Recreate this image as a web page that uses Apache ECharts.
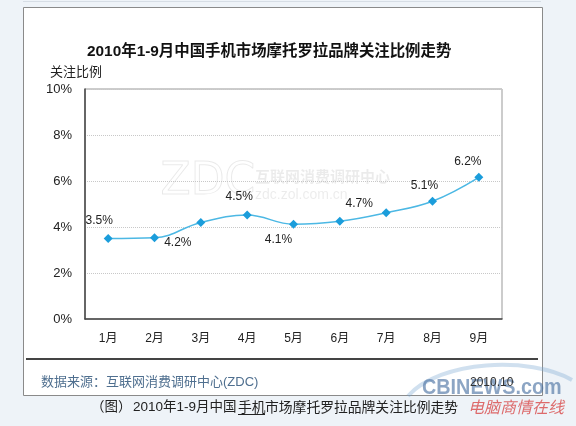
<!DOCTYPE html>
<html>
<head>
<meta charset="utf-8">
<script src="https://cdn.jsdelivr.net/npm/echarts@6/dist/echarts.min.js"></script>
<style>
  html, body { margin: 0; padding: 0; background: #eef3f8; }
  #chart { width: 576px; height: 426px; }
</style>
</head>
<body>
<div id="chart"></div>
<script>
// 月份
const months = ['1月', '2月', '3月', '4月', '5月', '6月', '7月', '8月', '9月']
// 关注比例 (%)
const shares = [3.5, 3.53, 4.2, 4.52, 4.12, 4.25, 4.62, 5.12, 6.16]
// 图上标注的数值文字 (null 表示无标注)
const labelTexts = ['3.5%', null, '4.2%', '4.5%', '4.1%', null, '4.7%', '5.1%', '6.2%']
// y 轴刻度
const yTicks = [0, 2, 4, 6, 8, 10]

// 标注偏移 (像素，相对于数据点)
const labelOffsets = [[-9, -18], null, [-23, 20], [-8, -18], [-15, 15], null, [-27, -9], [-8, -16], [-11, -16]]

const font = 'Arial, "Liberation Sans", "Noto Sans CJK SC"'
const chart = echarts.init(document.getElementById('chart'))

const seriesData = shares.map((v, i) => {
  const item = { value: v }
  if (labelTexts[i]) {
    item.label = {
      show: true,
      position: 'inside',
      offset: labelOffsets[i],
      formatter: labelTexts[i],
      color: '#222',
      fontSize: 12,
      fontFamily: font
    }
  }
  return item
})

const option = {
  backgroundColor: '#eef3f8',
  animation: false,
  title: {
    text: '2010年1-9月中国手机市场摩托罗拉品牌关注比例走势',
    left: 82,
    top: 39,
    textStyle: { fontSize: 15.4, fontWeight: 'bold', color: '#111', fontFamily: font }
  },
  graphic: [
    // 外框
    { type: 'rect', z: -10, shape: { x: 23.5, y: 7.5, width: 519, height: 388 },
      style: { fill: '#fff', stroke: '#8a8a8a', lineWidth: 1 } },
    { type: 'line', z: -10, shape: { x1: 23, y1: 1.5, x2: 541, y2: 1.5 },
      style: { stroke: '#d6dde5', lineWidth: 1 } },
    // 分隔线
    { type: 'line', shape: { x1: 26, y1: 359, x2: 538, y2: 359 },
      style: { stroke: '#444', lineWidth: 2 } },
    // 水印
    { type: 'text', z: -5, left: 160, top: 160,
      style: { text: 'ZDC', fontSize: 44, fontFamily: 'DejaVu Sans', fontWeight: 'normal', fill: 'rgba(0,0,0,0)', stroke: 'rgba(0,0,0,0.09)', lineWidth: 1 } },
    { type: 'text', z: -5, left: 255, top: 170,
      style: { text: '互联网消费调研中心', fontSize: 15, fontWeight: 'bold', fontFamily: font, fill: 'rgba(0,0,0,0.08)' } },
    { type: 'text', z: -5, left: 255, top: 188,
      style: { text: 'zdc.zol.com.cn', fontSize: 14, fontFamily: font, fill: 'rgba(0,0,0,0.08)' } },
    // y 轴名称
    { type: 'text', left: 50, top: 66,
      style: { text: '关注比例', fontSize: 13, fontFamily: font, fill: '#222' } },
    // 数据来源
    { type: 'text', left: 41, top: 376,
      style: { text: '数据来源：互联网消费调研中心(ZDC)', fontSize: 13, fontFamily: font, fill: '#4f6f8f' } },
    // CBINEWS 标识
    { type: 'bezierCurve', z: 5, shape: { x1: 408, y1: 396, x2: 572, y2: 380, cpx1: 440, cpy1: 360, cpx2: 530, cpy2: 356 },
      style: { stroke: 'rgba(120,165,210,0.35)', lineWidth: 4, fill: null } },
    { type: 'text', z: 6, x: 422, y: 377, scaleX: 0.9,
      style: { text: 'CBINEWS.com', fontSize: 22, fontWeight: 'bold', fontFamily: font, fill: 'rgba(70,110,160,0.62)', textVerticalAlign: 'top' } },
    { type: 'text', z: 7, left: 470, top: 377,
      style: { text: '2010.10', fontSize: 12, fontFamily: font, fill: '#333' } },
    { type: 'text', left: 468, top: 401,
      style: { text: '电脑商情在线', fontSize: 16, fontStyle: 'italic', fontFamily: font, fill: 'rgba(215,60,60,0.75)' } },
    // 图注
    { type: 'text', left: 91, top: 401,
      style: { text: '（图）', fontSize: 13.5, fontFamily: font, fill: '#222' } },
    { type: 'text', left: 133, top: 401,
      style: { text: '2010年1-9月中国', fontSize: 13.5, fontFamily: font, fill: '#222' } },
    { type: 'text', left: 238, top: 401,
      style: { text: '手机', fontSize: 13.8, fontFamily: font, fill: '#222' } },
    { type: 'text', left: 265, top: 401,
      style: { text: '市场摩托罗拉品牌关注比例走势', fontSize: 13.8, fontFamily: font, fill: '#222' } },
    { type: 'line', shape: { x1: 238, y1: 414.5, x2: 265, y2: 414.5 },
      style: { stroke: '#222', lineWidth: 1 } }
  ],
  grid: { left: 85, right: 74, top: 89, bottom: 107, show: true, borderColor: '#999', borderWidth: 1 },
  xAxis: {
    type: 'category',
    data: months,
    boundaryGap: true,
    axisLine: { lineStyle: { color: '#444', width: 1.5 } },
    axisTick: { inside: true, length: 4, lineStyle: { color: '#444' } },
    axisLabel: { color: '#222', fontSize: 12, margin: 14, fontFamily: font }
  },
  yAxis: {
    type: 'value',
    min: yTicks[0],
    max: yTicks[yTicks.length - 1],
    interval: yTicks[1] - yTicks[0],
    axisLine: { show: true, lineStyle: { color: '#444', width: 1.5 } },
    axisTick: { show: false },
    axisLabel: { formatter: '{value}%', color: '#222', fontSize: 13, margin: 13, fontFamily: font },
    splitLine: { lineStyle: { color: '#c8c8c8', type: 'dotted' } }
  },
  series: [{
    type: 'line',
    data: seriesData,
    smooth: 0.4,
    symbol: 'diamond',
    symbolSize: 9,
    lineStyle: { color: '#4cb8e4', width: 1.5 },
    itemStyle: { color: '#1b9ddb' }
  }]
}

chart.setOption(option)
</script>
</body>
</html>
